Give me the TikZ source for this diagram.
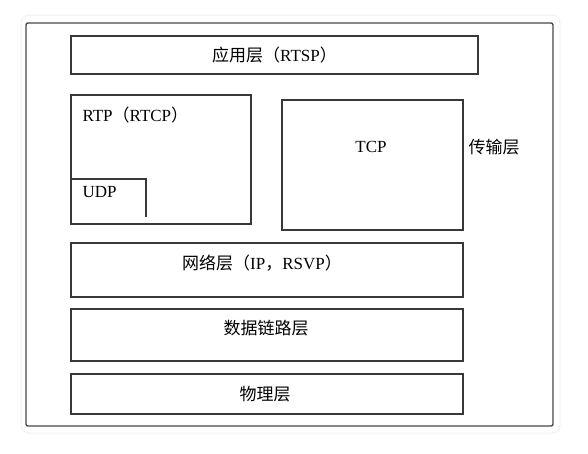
\documentclass[tikz,border=0pt]{standalone}
\usepackage{fontspec}
\setmainfont{Liberation Serif}
\newfontfamily\zh{Noto Sans CJK SC}
\usepackage{tikz}
\usetikzlibrary{positioning}

\tikzset{layerline/.style={line width=1.1pt,draw=black!78}}

\begin{document}
\begin{tikzpicture}[x=1pt,y=-1pt,font=\fontsize{17}{20}\selectfont]
  \useasboundingbox (0,0) rectangle (588,453);
  \draw[gray!12,line width=1pt,rounded corners=8pt] (21,15) rectangle (560,433);
  \draw[line width=1.4pt,draw=black!72,rounded corners=2pt] (26,23) rectangle (553,426);
  \draw[style=layerline] (71,36) rectangle (478,74) node(app)[pos=.5] {{\zh 应用层（}RTSP{\zh ）}};
  \draw[style=layerline] (71,95) rectangle (251,224);
  \node[anchor=west] (rtp) at (79,115) {RTP{\zh （}RTCP{\zh ）}};
  \draw[style=layerline] (71,179) -- (146,179) -- (146,217);
  \node[anchor=west] (udp) at (79,192) {UDP};
  \draw[style=layerline] (282,100) rectangle (463,230);
  \node[] (tcp) at (371,147) {TCP};
  \node[anchor=west] (trans) at (465,147) {\zh 传输层};
  \draw[style=layerline] (71,243) rectangle (463,297);
  \node[] (net) at (262,263) {{\zh 网络层（}IP{\zh ，}RSVP{\zh ）}};
  \draw[style=layerline] (71,309) rectangle (463,361);
  \node[] (link) at (266,328) {\zh 数据链路层};
  \draw[style=layerline] (71,374) rectangle (463,414);
  \node[] (phy) at (265,394) {\zh 物理层};
\end{tikzpicture}
\end{document}
